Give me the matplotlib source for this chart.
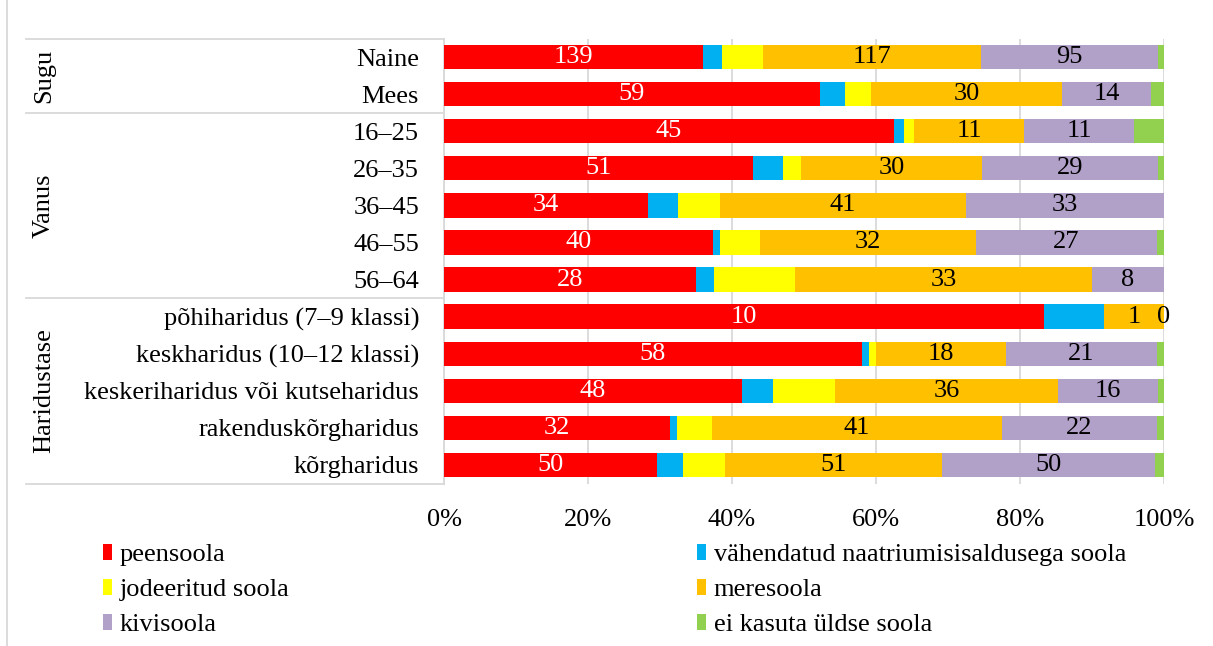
import numpy as np
import matplotlib
matplotlib.use("Agg")
import matplotlib.pyplot as plt
from matplotlib.patches import Patch
from matplotlib.lines import Line2D

plt.rcParams['font.family'] = ['Liberation Serif', 'DejaVu Serif']

categories = ["Naine", "Mees", "16–25", "26–35", "36–45", "46–55", "56–64",
              "põhiharidus (7–9 klassi)", "keskharidus (10–12 klassi)",
              "keskeriharidus või kutseharidus", "rakenduskõrgharidus", "kõrgharidus"]
groups = ["Sugu", "Vanus", "Haridustase"]
group_sizes = [2, 5, 5]

peensoola = [139, 59, 45, 51, 34, 40, 28, 10, 58, 48, 32, 50]
vahendatud = [10, 4, 1, 5, 5, 1, 2, 1, 1, 5, 1, 6]
jodeeritud = [22, 4, 1, 3, 7, 6, 9, 0, 1, 10, 5, 10]
meresoola = [117, 30, 11, 30, 41, 32, 33, 1, 18, 36, 41, 51]
kivisoola = [95, 14, 11, 29, 33, 27, 8, 0, 21, 16, 22, 50]
ei_kasuta = [3, 2, 3, 1, 0, 1, 0, 0, 1, 1, 1, 2]

series_names = ["peensoola", "vähendatud naatriumisisaldusega soola", "jodeeritud soola",
                "meresoola", "kivisoola", "ei kasuta üldse soola"]
series = [peensoola, vahendatud, jodeeritud, meresoola, kivisoola, ei_kasuta]
colors = ["#FF0000", "#00B0F0", "#FFFF00", "#FFC000", "#B1A0C7", "#92D050"]
label_colors = ["white", None, None, "black", "black", None]

W, H = 1213, 646
fig = plt.figure(figsize=(W / 100, H / 100), dpi=100)
ax = fig.add_axes([444 / W, 1 - 483.5 / H, 720 / W, 445 / H])

fs = 19
data = np.array(series, dtype=float)
totals = data.sum(axis=0)
shares = data / totals
y = np.arange(len(categories))
left = np.zeros(len(categories))
for i, name in enumerate(series_names):
    ax.barh(y, shares[i], left=left, height=0.655, color=colors[i], linewidth=0, zorder=3)
    if label_colors[i]:
        for j in range(len(categories)):
            ax.text(left[j] + shares[i][j] / 2, y[j], str(int(data[i][j])),
                    ha='center', va='center', fontsize=fs, color=label_colors[i], zorder=4)
    left += shares[i]

ax.set_xlim(0, 1)
ax.set_ylim(len(categories) - 0.5, -0.5)
ax.set_xticks(np.arange(0, 1.01, 0.2))
ax.set_xticklabels([f"{int(round(v * 100))}%" for v in np.arange(0, 1.01, 0.2)], fontsize=fs)
ax.set_yticks(y)
ax.set_yticklabels(categories, fontsize=fs)
ax.tick_params(axis='x', length=0, pad=18.5)
ax.tick_params(axis='y', length=0, pad=18)
ax.grid(axis='x', color='#D9D9D9', linewidth=1.3, zorder=0)
for s in ['top', 'right', 'bottom']:
    ax.spines[s].set_visible(False)
ax.spines['left'].set_color('#D9D9D9')
ax.spines['left'].set_linewidth(1.3)

# group separators and group labels
tr = ax.get_yaxis_transform()
x0 = (26 - 444) / 720
bounds = np.concatenate([[0], np.cumsum(group_sizes)]) - 0.5
for b in bounds:
    ax.plot([x0, 0], [b, b], color='#D9D9D9', linewidth=1.3, transform=tr, clip_on=False)
for g, lo, hi in zip(groups, bounds[:-1], bounds[1:]):
    ax.text((44 - 444) / 720, (lo + hi) / 2, g, rotation=90, ha='center', va='center',
            fontsize=fs, transform=tr)

fig.add_artist(Line2D([7 / W, 7 / W], [0, 1], color='#D9D9D9', linewidth=1.3))

# legend in two columns
handles = [Patch(facecolor=c, edgecolor='none') for c in colors]
common = dict(frameon=False, fontsize=fs, handlelength=0.34, handleheight=0.55,
              handletextpad=0.3, labelspacing=0.48, borderpad=0, borderaxespad=0,
              loc='upper left')
fig.legend([handles[k] for k in (0, 2, 4)], [series_names[k] for k in (0, 2, 4)],
           bbox_to_anchor=(103 / W, 1 - 544 / H), **common)
fig.legend([handles[k] for k in (1, 3, 5)], [series_names[k] for k in (1, 3, 5)],
           bbox_to_anchor=(697 / W, 1 - 544 / H), **common)

fig.savefig("out.png", dpi=100)
